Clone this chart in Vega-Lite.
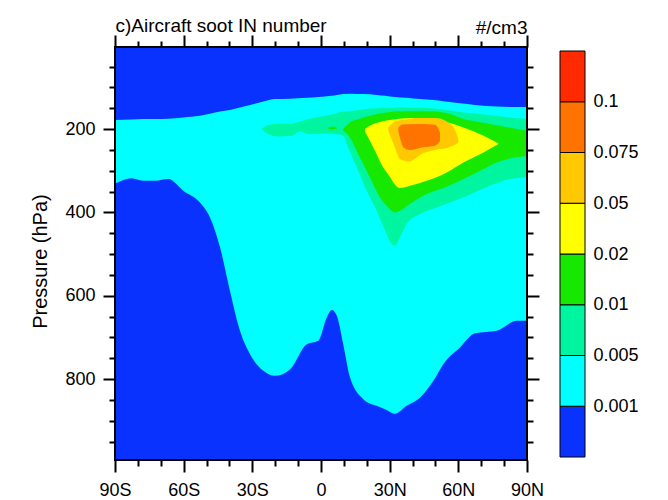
{
  "$schema": "https://vega.github.io/schema/vega-lite/v6.json",
  "padding": {"left": 30, "top": 16, "right": 5, "bottom": 5},
  "background": "white",
  "bounds": "flush",
  "spacing": 33,
  "config": {
    "font": "Liberation Sans",
    "view": {"stroke": null},
    "axis": {"grid": false, "domain": false, "tickColor": "black", "tickWidth": 2, "labelColor": "black", "titleColor": "black", "labelFont": "Liberation Sans", "titleFont": "Liberation Sans", "labelFontSize": 18, "titleFontSize": 18, "titleFontWeight": "normal", "labelFlush": false, "labelOverlap": false, "labelBound": false}
  },
  "datasets": {
    "frame": [{"lat": -90, "lat2": 90, "top": 3, "bot": 994}],
    "bands": [
      {"b": "c1", "lat": -90, "top": 178, "bot": 331},
      {"b": "c1", "lat": -82.7, "top": 177, "bot": 318},
      {"b": "c1", "lat": -77.8, "top": 176, "bot": 324},
      {"b": "c1", "lat": -72.5, "top": 176, "bot": 324},
      {"b": "c1", "lat": -66.7, "top": 175, "bot": 320},
      {"b": "c1", "lat": -60.2, "top": 172, "bot": 348},
      {"b": "c1", "lat": -52.9, "top": 168, "bot": 376},
      {"b": "c1", "lat": -48.5, "top": 163, "bot": 412},
      {"b": "c1", "lat": -44.1, "top": 158, "bot": 484},
      {"b": "c1", "lat": -39.8, "top": 154, "bot": 588},
      {"b": "c1", "lat": -35.4, "top": 148, "bot": 684},
      {"b": "c1", "lat": -31, "top": 142, "bot": 740},
      {"b": "c1", "lat": -25.2, "top": 134, "bot": 780},
      {"b": "c1", "lat": -20.1, "top": 128, "bot": 792},
      {"b": "c1", "lat": -13.5, "top": 127, "bot": 776},
      {"b": "c1", "lat": -6.2, "top": 125, "bot": 716},
      {"b": "c1", "lat": -1.2, "top": 123, "bot": 708},
      {"b": "c1", "lat": 2.5, "top": 121, "bot": 652},
      {"b": "c1", "lat": 4.7, "top": 120, "bot": 634},
      {"b": "c1", "lat": 6.9, "top": 118, "bot": 648},
      {"b": "c1", "lat": 9.7, "top": 116, "bot": 716},
      {"b": "c1", "lat": 12.7, "top": 115, "bot": 796},
      {"b": "c1", "lat": 18.5, "top": 116, "bot": 848},
      {"b": "c1", "lat": 24.3, "top": 118, "bot": 864},
      {"b": "c1", "lat": 28, "top": 120, "bot": 872},
      {"b": "c1", "lat": 32.3, "top": 123, "bot": 883},
      {"b": "c1", "lat": 37.4, "top": 125, "bot": 864},
      {"b": "c1", "lat": 43.3, "top": 128, "bot": 844},
      {"b": "c1", "lat": 49.1, "top": 130, "bot": 804},
      {"b": "c1", "lat": 53.4, "top": 133, "bot": 764},
      {"b": "c1", "lat": 60.7, "top": 138, "bot": 724},
      {"b": "c1", "lat": 67.3, "top": 142, "bot": 690},
      {"b": "c1", "lat": 76.8, "top": 146, "bot": 684},
      {"b": "c1", "lat": 85.5, "top": 147, "bot": 660},
      {"b": "c1", "lat": 90, "top": 147, "bot": 660},
      {"b": "c2", "lat": -25.65, "top": 198, "bot": 202},
      {"b": "c2", "lat": -23.0, "top": 190, "bot": 212},
      {"b": "c2", "lat": -18.65, "top": 187, "bot": 218},
      {"b": "c2", "lat": -12.8, "top": 187, "bot": 216},
      {"b": "c2", "lat": -9.2, "top": 182, "bot": 206},
      {"b": "c2", "lat": -5.55, "top": 176, "bot": 212},
      {"b": "c2", "lat": 0.3, "top": 170, "bot": 211},
      {"b": "c2", "lat": 6.1, "top": 163, "bot": 212},
      {"b": "c2", "lat": 9.75, "top": 158, "bot": 216},
      {"b": "c2", "lat": 11.2, "top": 158, "bot": 236},
      {"b": "c2", "lat": 15.6, "top": 155, "bot": 292},
      {"b": "c2", "lat": 20.0, "top": 152, "bot": 348},
      {"b": "c2", "lat": 24.3, "top": 150, "bot": 396},
      {"b": "c2", "lat": 28.0, "top": 149, "bot": 444},
      {"b": "c2", "lat": 30.9, "top": 149, "bot": 476},
      {"b": "c2", "lat": 32.3, "top": 148, "bot": 480},
      {"b": "c2", "lat": 34.5, "top": 148, "bot": 460},
      {"b": "c2", "lat": 37.4, "top": 148, "bot": 428},
      {"b": "c2", "lat": 43.25, "top": 149, "bot": 404},
      {"b": "c2", "lat": 50.5, "top": 151, "bot": 388},
      {"b": "c2", "lat": 62.2, "top": 160, "bot": 364},
      {"b": "c2", "lat": 73.8, "top": 166, "bot": 336},
      {"b": "c2", "lat": 82.6, "top": 172, "bot": 320},
      {"b": "c2", "lat": 90, "top": 175, "bot": 316},
      {"b": "c3", "lat": 9.75, "top": 200, "bot": 204},
      {"b": "c3", "lat": 12.65, "top": 184, "bot": 220},
      {"b": "c3", "lat": 17.0, "top": 175, "bot": 268},
      {"b": "c3", "lat": 21.4, "top": 168, "bot": 316},
      {"b": "c3", "lat": 25.8, "top": 162.6, "bot": 364},
      {"b": "c3", "lat": 29.4, "top": 159.7, "bot": 388},
      {"b": "c3", "lat": 32.3, "top": 157.8, "bot": 400},
      {"b": "c3", "lat": 34.5, "top": 157.3, "bot": 396},
      {"b": "c3", "lat": 38.9, "top": 156.6, "bot": 379},
      {"b": "c3", "lat": 46.2, "top": 156.8, "bot": 356},
      {"b": "c3", "lat": 54.9, "top": 161.6, "bot": 338.5},
      {"b": "c3", "lat": 62.2, "top": 176, "bot": 320},
      {"b": "c3", "lat": 69.5, "top": 183.7, "bot": 300},
      {"b": "c3", "lat": 76.8, "top": 190.9, "bot": 280},
      {"b": "c3", "lat": 84.0, "top": 198, "bot": 269},
      {"b": "c3", "lat": 90, "top": 204, "bot": 264},
      {"b": "c3s", "lat": 3.0, "top": 197, "bot": 198},
      {"b": "c3s", "lat": 5.0, "top": 194, "bot": 201},
      {"b": "c3s", "lat": 7.0, "top": 197, "bot": 198},
      {"b": "c4", "lat": 19.2, "top": 200, "bot": 206},
      {"b": "c4", "lat": 22.85, "top": 188, "bot": 244},
      {"b": "c4", "lat": 27.2, "top": 181, "bot": 292},
      {"b": "c4", "lat": 30.1, "top": 178.4, "bot": 314.5},
      {"b": "c4", "lat": 31.6, "top": 177, "bot": 328},
      {"b": "c4", "lat": 34.5, "top": 175, "bot": 341.6},
      {"b": "c4", "lat": 38.9, "top": 173.6, "bot": 336},
      {"b": "c4", "lat": 46.2, "top": 174, "bot": 324},
      {"b": "c4", "lat": 52.0, "top": 180, "bot": 312},
      {"b": "c4", "lat": 54.9, "top": 183.7, "bot": 304},
      {"b": "c4", "lat": 62.2, "top": 196, "bot": 280},
      {"b": "c4", "lat": 71.0, "top": 216, "bot": 256},
      {"b": "c4", "lat": 77.5, "top": 234.6, "bot": 236},
      {"b": "c5", "lat": 29.4, "top": 196, "bot": 204},
      {"b": "c5", "lat": 32.3, "top": 182, "bot": 244},
      {"b": "c5", "lat": 34.5, "top": 179, "bot": 272},
      {"b": "c5", "lat": 38.1, "top": 176.5, "bot": 278},
      {"b": "c5", "lat": 41.1, "top": 173.6, "bot": 271},
      {"b": "c5", "lat": 44.0, "top": 173.6, "bot": 260},
      {"b": "c5", "lat": 49.8, "top": 173.6, "bot": 250},
      {"b": "c5", "lat": 55.6, "top": 184, "bot": 244},
      {"b": "c5", "lat": 59.3, "top": 212, "bot": 235},
      {"b": "c5", "lat": 60.0, "top": 225.7, "bot": 232},
      {"b": "c6", "lat": 33.8, "top": 196, "bot": 206.5},
      {"b": "c6", "lat": 35.3, "top": 189.7, "bot": 235},
      {"b": "c6", "lat": 36.0, "top": 189, "bot": 244},
      {"b": "c6", "lat": 38.9, "top": 188.5, "bot": 250},
      {"b": "c6", "lat": 44.0, "top": 188, "bot": 244},
      {"b": "c6", "lat": 49.8, "top": 189.7, "bot": 240},
      {"b": "c6", "lat": 52.0, "top": 208, "bot": 228}
    ],
    "cbar": [
      {"band": "k0", "lo": 0, "hi": 1},
      {"band": "k1", "lo": 1, "hi": 2},
      {"band": "k2", "lo": 2, "hi": 3},
      {"band": "k3", "lo": 3, "hi": 4},
      {"band": "k4", "lo": 4, "hi": 5},
      {"band": "k5", "lo": 5, "hi": 6},
      {"band": "k6", "lo": 6, "hi": 7},
      {"band": "k7", "lo": 7, "hi": 8}
    ]
  },
  "hconcat": [
    {
      "width": 412,
      "height": 413,
      "layer": [
        {
          "data": {"name": "frame"},
          "mark": {"type": "rect", "color": "#0a32ff"},
          "encoding": {
            "x": {"field": "lat", "type": "quantitative", "scale": {"domain": [-90, 90], "nice": false, "zero": false},
              "axis": {"orient": "bottom", "values": [-90, -60, -30, 0, 30, 60, 90], "tickSize": 12, "labelPadding": 9, "title": null,
                "labelExpr": "datum.value == 0 ? '0' : (datum.value < 0 ? (-datum.value) + 'S' : datum.value + 'N')"}},
            "x2": {"field": "lat2"},
            "y": {"field": "top", "type": "quantitative", "scale": {"domain": [3, 994], "nice": false, "zero": false, "reverse": true},
              "axis": {"orient": "left", "values": [200, 400, 600, 800], "tickSize": 12, "labelPadding": 8, "title": "Pressure (hPa)", "titleFontSize": 20, "titlePadding": 14, "titleY": 214}},
            "y2": {"field": "bot"}
          }
        },
        {
          "data": {"name": "bands"},
          "transform": [{"filter": "datum.b == 'c1'"}],
          "mark": {"type": "area", "color": "#00ffff", "interpolate": "monotone"},
          "encoding": {
            "x": {"field": "lat", "type": "quantitative", "scale": {"domain": [-90, 90], "nice": false, "zero": false},
              "axis": {"orient": "bottom", "values": [-80, -70, -50, -40, -20, -10, 10, 20, 40, 50, 70, 80], "tickSize": 6, "labels": false, "title": null}},
            "y": {"field": "top", "type": "quantitative", "scale": {"domain": [3, 994], "nice": false, "zero": false, "reverse": true},
              "axis": {"orient": "left", "values": [50, 100, 150, 250, 300, 350, 450, 500, 550, 650, 700, 750, 850, 900, 950], "tickSize": 6, "labels": false, "title": null}},
            "y2": {"field": "bot"}
          }
        },
        {
          "data": {"name": "bands"},
          "transform": [{"filter": "datum.b == 'c2'"}],
          "mark": {"type": "area", "color": "#00f5a0", "interpolate": "monotone"},
          "encoding": {
            "x": {"field": "lat", "type": "quantitative", "scale": {"domain": [-90, 90], "nice": false, "zero": false},
              "axis": {"orient": "top", "values": [-90, -60, -30, 0, 30, 60, 90], "tickSize": 12, "labels": false, "title": "c)Aircraft soot IN number", "titleFontSize": 19, "titleAnchor": "start", "titlePadding": -1}},
            "y": {"field": "top", "type": "quantitative", "scale": {"domain": [3, 994], "nice": false, "zero": false, "reverse": true},
              "axis": {"orient": "right", "values": [200, 400, 600, 800], "tickSize": 12, "labels": false, "title": null}},
            "y2": {"field": "bot"}
          }
        },
        {
          "data": {"name": "bands"},
          "transform": [{"filter": "datum.b == 'c3'"}],
          "mark": {"type": "area", "color": "#17e800", "interpolate": "monotone"},
          "encoding": {
            "x": {"field": "lat", "type": "quantitative", "scale": {"domain": [-90, 90], "nice": false, "zero": false},
              "axis": {"orient": "top", "values": [-80, -70, -50, -40, -20, -10, 10, 20, 40, 50, 70, 80], "tickSize": 6, "labels": false, "title": "#/cm3", "titleFontSize": 19, "titleAnchor": "end", "titlePadding": 3}},
            "y": {"field": "top", "type": "quantitative", "scale": {"domain": [3, 994], "nice": false, "zero": false, "reverse": true},
              "axis": {"orient": "right", "values": [50, 100, 150, 250, 300, 350, 450, 500, 550, 650, 700, 750, 850, 900, 950], "tickSize": 6, "labels": false, "title": null}},
            "y2": {"field": "bot"}
          }
        },
        {
          "data": {"name": "bands"},
          "transform": [{"filter": "datum.b == 'c3s'"}],
          "mark": {"type": "area", "color": "#17e800", "interpolate": "monotone"},
          "encoding": {
            "x": {"field": "lat", "type": "quantitative", "scale": {"domain": [-90, 90], "nice": false, "zero": false}, "axis": null},
            "y": {"field": "top", "type": "quantitative", "scale": {"domain": [3, 994], "nice": false, "zero": false, "reverse": true}, "axis": null},
            "y2": {"field": "bot"}
          }
        },
        {
          "data": {"name": "bands"},
          "transform": [{"filter": "datum.b == 'c4'"}],
          "mark": {"type": "area", "color": "#ffff00", "interpolate": "monotone"},
          "encoding": {
            "x": {"field": "lat", "type": "quantitative", "scale": {"domain": [-90, 90], "nice": false, "zero": false}, "axis": null},
            "y": {"field": "top", "type": "quantitative", "scale": {"domain": [3, 994], "nice": false, "zero": false, "reverse": true}, "axis": null},
            "y2": {"field": "bot"}
          }
        },
        {
          "data": {"name": "bands"},
          "transform": [{"filter": "datum.b == 'c5'"}],
          "mark": {"type": "area", "color": "#ffc800", "interpolate": "monotone"},
          "encoding": {
            "x": {"field": "lat", "type": "quantitative", "scale": {"domain": [-90, 90], "nice": false, "zero": false}, "axis": null},
            "y": {"field": "top", "type": "quantitative", "scale": {"domain": [3, 994], "nice": false, "zero": false, "reverse": true}, "axis": null},
            "y2": {"field": "bot"}
          }
        },
        {
          "data": {"name": "bands"},
          "transform": [{"filter": "datum.b == 'c6'"}],
          "mark": {"type": "area", "color": "#ff7300", "interpolate": "monotone"},
          "encoding": {
            "x": {"field": "lat", "type": "quantitative", "scale": {"domain": [-90, 90], "nice": false, "zero": false}, "axis": null},
            "y": {"field": "top", "type": "quantitative", "scale": {"domain": [3, 994], "nice": false, "zero": false, "reverse": true}, "axis": null},
            "y2": {"field": "bot"}
          }
        },
        {
          "data": {"name": "frame"},
          "mark": {"type": "rect", "fillOpacity": 0, "stroke": "black", "strokeWidth": 2},
          "encoding": {
            "x": {"field": "lat", "type": "quantitative", "scale": {"domain": [-90, 90], "nice": false, "zero": false}, "axis": null},
            "x2": {"field": "lat2"},
            "y": {"field": "top", "type": "quantitative", "scale": {"domain": [3, 994], "nice": false, "zero": false, "reverse": true}, "axis": null},
            "y2": {"field": "bot"}
          }
        }
      ],
      "resolve": {"axis": {"x": "independent", "y": "independent"}}
    },
    {
      "width": 25,
      "height": 410,
      "data": {"name": "cbar"},
      "mark": {"type": "rect", "stroke": "black", "strokeWidth": 1},
      "encoding": {
        "y": {"field": "lo", "type": "quantitative", "scale": {"domain": [0, 8.079], "nice": false, "zero": false},
          "axis": {"orient": "right", "values": [1, 2, 3, 4, 5, 6, 7], "ticks": false, "domain": false, "labelPadding": 8, "title": null,
            "labelExpr": "['', '0.001', '0.005', '0.01', '0.02', '0.05', '0.075', '0.1'][datum.value]"}},
        "y2": {"field": "hi"},
        "color": {"field": "band", "type": "nominal", "legend": null,
          "scale": {"domain": ["k0", "k1", "k2", "k3", "k4", "k5", "k6", "k7"],
            "range": ["#0a32ff", "#00ffff", "#00f5a0", "#17e800", "#ffff00", "#ffc800", "#ff7300", "#ff2a00"]}}
      }
    }
  ]
}
